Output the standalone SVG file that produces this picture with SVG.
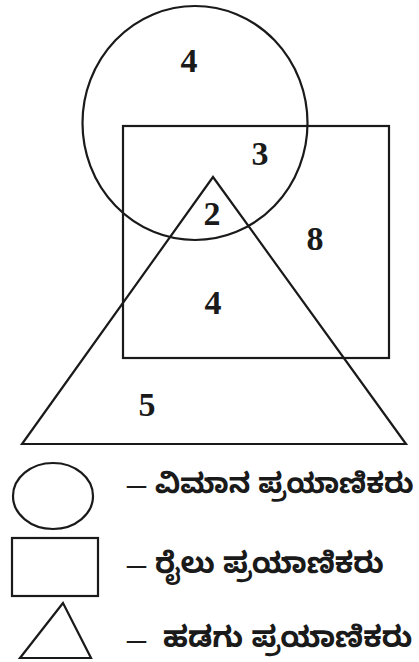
<svg xmlns="http://www.w3.org/2000/svg" width="419" height="662" viewBox="0 0 419 662">
<style>
.s{fill:none;stroke:#1a1a1a;stroke-width:2.2}
.n{font-family:"Liberation Serif","Times New Roman",serif;font-weight:bold;font-size:34px;fill:#1a1a1a;text-anchor:middle}
.d{font-family:"Liberation Serif",serif;font-size:38px;fill:#1a1a1a}
.k{font-family:"Noto Sans Kannada","Noto Serif Kannada","Lohit Kannada","Tunga","Noto Sans",sans-serif;font-weight:bold;font-size:29px;fill:#1a1a1a}
</style>
<rect width="419" height="662" fill="#fff"/>
<g id="circle"><ellipse class="s" cx="195" cy="123" rx="112.5" ry="117"/></g>
<g id="rectangle"><rect class="s" x="123" y="126" width="266" height="232"/></g>
<g id="triangle"><polygon class="s" points="213,177 22,444 406,444"/></g>
<g id="numbers">
<text class="n" x="189" y="72">4</text>
<text class="n" x="260" y="165">3</text>
<text class="n" x="212" y="225">2</text>
<text class="n" x="315" y="250">8</text>
<text class="n" x="213" y="314">4</text>
<text class="n" x="147" y="416">5</text>
</g>
<g id="legend-circle">
<ellipse class="s" cx="53" cy="496" rx="40" ry="33"/>
<text class="d" x="127" y="496">–</text>
<text class="k" x="155" y="493" style="font-size:28px">ವಿಮಾನ ಪ್ರಯಾಣಿಕರು</text>
</g>
<g id="legend-rectangle">
<rect class="s" x="12" y="538" width="86" height="58"/>
<text class="d" x="127" y="576">–</text>
<text class="k" x="155" y="573">ರೈಲು ಪ್ರಯಾಣಿಕರು</text>
</g>
<g id="legend-triangle">
<polygon class="s" points="63,603 20,658 91,658"/>
<text class="d" x="127" y="651">–</text>
<text class="k" x="163" y="647">ಹಡಗು ಪ್ರಯಾಣಿಕರು</text>
</g>
</svg>
